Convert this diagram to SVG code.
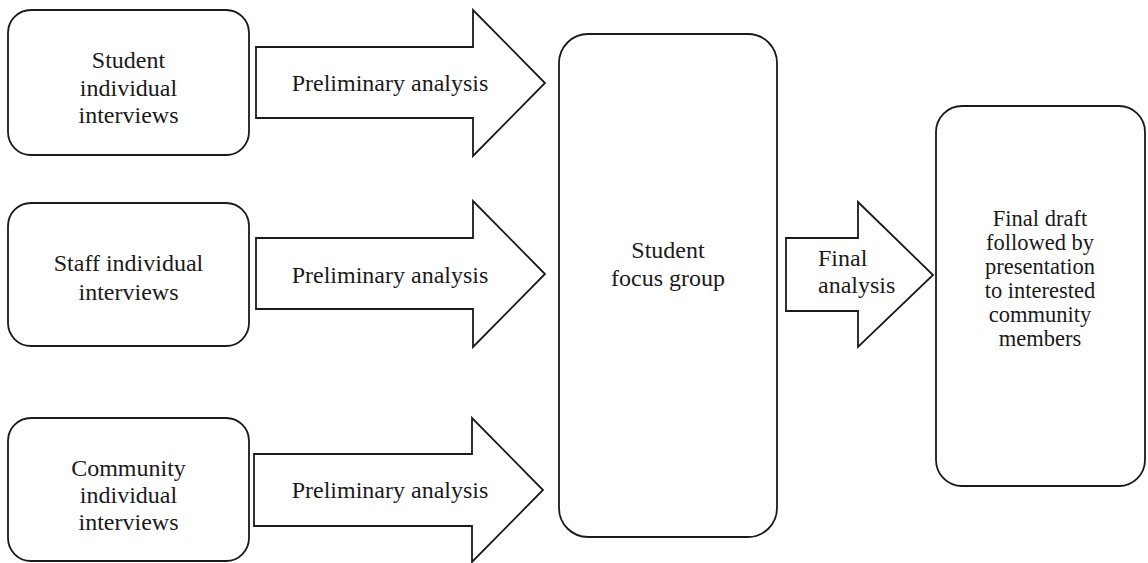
<svg xmlns="http://www.w3.org/2000/svg" width="1148" height="563" viewBox="0 0 1148 563">
<style>
.box{fill:#fff;stroke:#1a1a1a;stroke-width:1.8}
.arr{fill:#fff;stroke:#1a1a1a;stroke-width:1.8;stroke-linejoin:miter}
text{font-family:"Liberation Serif","Times New Roman",serif;font-size:24px;fill:#1a1a1a}
.c{text-anchor:middle}
.s{font-size:22.5px}
</style>
<rect width="1148" height="563" fill="#fff"/>
<g id="connectors">
<g id="arrow1"><polygon class="arr" points="256,47 473,47 473,10 545,83 473,156 473,118 256,118"/><text x="390" y="91" class="c">Preliminary analysis</text></g>
<g id="arrow2"><polygon class="arr" points="256,238 473,238 473,201 545,274 473,347 473,309 256,309"/><text x="390" y="283" class="c">Preliminary analysis</text></g>
<g id="arrow3"><polygon class="arr" points="254,454 472,454 472,418 543,490 472,562 472,526 254,526"/><text x="390" y="498" class="c">Preliminary analysis</text></g>
<g id="arrow4"><polygon class="arr" points="786,238 858,238 858,202 933,275 858,347 858,311 786,311"/><text x="818" y="266">Final</text><text x="818" y="293">analysis</text></g>
</g>
<g id="student-interviews"><rect class="box" x="8" y="10" width="241" height="145" rx="23"/><text x="128.5" y="68" class="c">Student</text><text x="128.5" y="96" class="c">individual</text><text x="128.5" y="123" class="c">interviews</text></g>
<g id="staff-interviews"><rect class="box" x="8" y="203" width="241" height="143" rx="23"/><text x="128.5" y="271" class="c">Staff individual</text><text x="128.5" y="300" class="c">interviews</text></g>
<g id="community-interviews"><rect class="box" x="8" y="418" width="241" height="143" rx="23"/><text x="128.5" y="476" class="c">Community</text><text x="128.5" y="503" class="c">individual</text><text x="128.5" y="530" class="c">interviews</text></g>
<g id="focus-group"><rect class="box" x="559" y="34" width="218" height="503" rx="29"/><text x="668" y="258" class="c">Student</text><text x="668" y="286" class="c">focus group</text></g>
<g id="final-draft"><rect class="box" x="936" y="106" width="209" height="380" rx="26"/><text x="1040" y="226" class="c s">Final draft</text><text x="1040" y="250" class="c s">followed by</text><text x="1040" y="274" class="c s">presentation</text><text x="1040" y="298" class="c s">to interested</text><text x="1040" y="322" class="c s">community</text><text x="1040" y="346" class="c s">members</text></g>
</svg>
